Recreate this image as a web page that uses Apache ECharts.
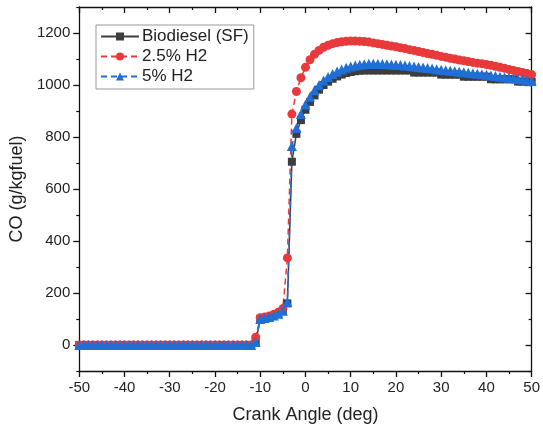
<!DOCTYPE html>
<html>
<head>
<meta charset="utf-8">
<script src="https://cdn.jsdelivr.net/npm/echarts@6/dist/echarts.min.js"></script>
<style>
html,body{margin:0;padding:0;background:#fff;}
#chart{width:543px;height:437px;}
</style>
</head>
<body>
<div id="chart"></div>
<script>
const angles = [-50,-49,-48,-47,-46,-45,-44,-43,-42,-41,-40,-39,-38,-37,-36,-35,-34,-33,-32,-31,-30,-29,-28,-27,-26,-25,-24,-23,-22,-21,-20,-19,-18,-17,-16,-15,-14,-13,-12,-11,-10,-9,-8,-7,-6,-5,-4,-3,-2,-1,0,1,2,3,4,5,6,7,8,9,10,11,12,13,14,15,16,17,18,19,20,21,22,23,24,25,26,27,28,29,30,31,32,33,34,35,36,37,38,39,40,41,42,43,44,45,46,47,48,49,50];

const biodiesel = [0,0,0,0,0,0,0,0,0,0,0,0,0,0,0,0,0,0,0,0,0,0,0,0,0,0,0,0,0,0,0,0,0,0,0,0,0,0,0,
  10,100,103,107,112,119,130,160,705,812,865,905,935,960,982,1000,1013,1024,1033,1040,1046,1050,1053,1055,
  1056,1056,1056,1056,1056,1056,1056,1056,1056,1056,1056,
  1048,1048,1048,1048,1048,1048,
  1040,1040,1040,1040,1040,
  1032,1032,1032,1032,1032,1032,
  1022,1022,1022,1022,1022,1022,
  1013,1013,1013,1013];

const h2_25 = [0,0,0,0,0,0,0,0,0,0,0,0,0,0,0,0,0,0,0,0,0,0,0,0,0,0,0,0,0,0,0,0,0,0,0,0,0,0,0,
  30,105,108,112,118,126,140,335,888,975,1028,1068,1097,1118,1133,1145,1153,1159,1163,1166,1168,1169,1169,1168,1167,1165,
  1162,1159,1156,1153,1150,1147,1143,1140,1136,1133,1129,1125,1121,1118,1114,1110,1107,1103,1100,1096,1093,1090,1087,1084,1082,
  1079,1076,1072,1068,1064,1060,1056,1052,1048,1044,1040];

const h2_5 = [0,0,0,0,0,0,0,0,0,0,0,0,0,0,0,0,0,0,0,0,0,0,0,0,0,0,0,0,0,0,0,0,0,0,0,0,0,0,0,
  12,100,104,108,113,120,132,165,765,835,888,925,955,980,1000,1017,1031,1042,1052,1060,1066,1071,1075,1078,1080,1082,
  1082,1082,1081,1080,1079,1078,1077,1075,1073,1071,1069,1067,1065,1063,1061,1059,1057,1055,1053,1051,1049,1047,1045,1043,1041,
  1039,1037,1035,1032,1030,1028,1026,1023,1021,1018,1015];

const seriesNames = ['Biodiesel (SF)', '2.5% H2', '5% H2'];
const yMajorTicks = [0,200,400,600,800,1000,1200];
const yMinorTicks = [-100,100,300,500,700,900,1100,1300];

const pair = arr => angles.map((a, i) => [a, arr[i]]);

const FONT = 'Liberation Sans, Arial, sans-serif';
const axisLineStyle = { color: '#111', width: 1.3 };
const minorStyle = { color: '#111', width: 1.2 };

function yAxisDef(pos, ticks, len, inside, showLine, extra) {
  return Object.assign({
    type: 'value', min: -100, max: 1300, position: pos,
    axisLine: { show: showLine, onZero: false, lineStyle: axisLineStyle },
    axisTick: { show: true, inside: inside, length: len, customValues: ticks, lineStyle: showLine ? axisLineStyle : minorStyle },
    axisLabel: { show: false },
    splitLine: { show: false }
  }, extra || {});
}

const chart = echarts.init(document.getElementById('chart'), null, { renderer: 'canvas' });
chart.setOption({
  animation: false,
  backgroundColor: '#fff',
  grid: { left: 79, right: 10, top: 7, bottom: 66, containLabel: false },
  legend: {
    orient: 'vertical',
    left: 96, top: 25,
    data: seriesNames,
    itemWidth: 38, itemHeight: 10, itemGap: 3,
    padding: [3, 5, 4, 4],
    borderColor: '#999', borderWidth: 1,
    textStyle: { fontFamily: FONT, fontSize: 17, color: '#222', padding: [0,0,0,-2] }
  },
  xAxis: [
    {
      type: 'value', min: -50, max: 50, interval: 10, position: 'bottom',
      name: 'Crank Angle (deg)', nameLocation: 'middle', nameGap: 35,
      nameTextStyle: { fontFamily: FONT, fontSize: 18, color: '#222' },
      axisLine: { show: true, onZero: false, lineStyle: axisLineStyle },
      axisTick: { show: true, inside: false, length: 6, lineStyle: axisLineStyle },
      minorTick: { show: true, splitNumber: 2, length: 3, lineStyle: minorStyle },
      axisLabel: { fontFamily: FONT, fontSize: 15, color: '#222', margin: 9 },
      splitLine: { show: false }, minorSplitLine: { show: false }
    },
    {
      type: 'value', min: -50, max: 50, interval: 10, position: 'top',
      axisLine: { show: true, onZero: false, lineStyle: axisLineStyle },
      axisTick: { show: true, inside: true, length: 6, lineStyle: axisLineStyle },
      minorTick: { show: true, splitNumber: 2, length: 3, lineStyle: minorStyle },
      axisLabel: { show: false },
      splitLine: { show: false }
    }
  ],
  yAxis: [
    yAxisDef('left', yMajorTicks, 6, false, true, {
      name: 'CO (g/kgfuel)', nameLocation: 'middle', nameGap: 52,
      nameTextStyle: { fontFamily: FONT, fontSize: 18, color: '#222' },
      axisLabel: { show: true, fontFamily: FONT, fontSize: 15, color: '#222', margin: 9,
                   customValues: yMajorTicks, formatter: v => String(v) }
    }),
    yAxisDef('left', yMinorTicks, 3, false, false),
    yAxisDef('right', yMajorTicks, 6, true, true),
    yAxisDef('right', yMinorTicks, 3, true, false)
  ],
  series: [
    {
      name: seriesNames[0], type: 'line', data: pair(biodiesel),
      symbol: 'rect', symbolSize: 8, showAllSymbol: true,
      itemStyle: { color: '#3d3d3d' },
      lineStyle: { color: '#3d3d3d', width: 1.5, type: 'solid' }
    },
    {
      name: seriesNames[1], type: 'line', data: pair(h2_25),
      symbol: 'circle', symbolSize: 9, showAllSymbol: true,
      itemStyle: { color: '#e8393b' },
      lineStyle: { color: '#e8393b', width: 1.5, type: [6, 4] }
    },
    {
      name: seriesNames[2], type: 'line', data: pair(h2_5),
      symbol: 'triangle', symbolSize: 10, showAllSymbol: true,
      itemStyle: { color: '#1f6fd6' },
      lineStyle: { color: '#1f6fd6', width: 1.5, type: [6, 4] }
    }
  ]
});
</script>
</body>
</html>
